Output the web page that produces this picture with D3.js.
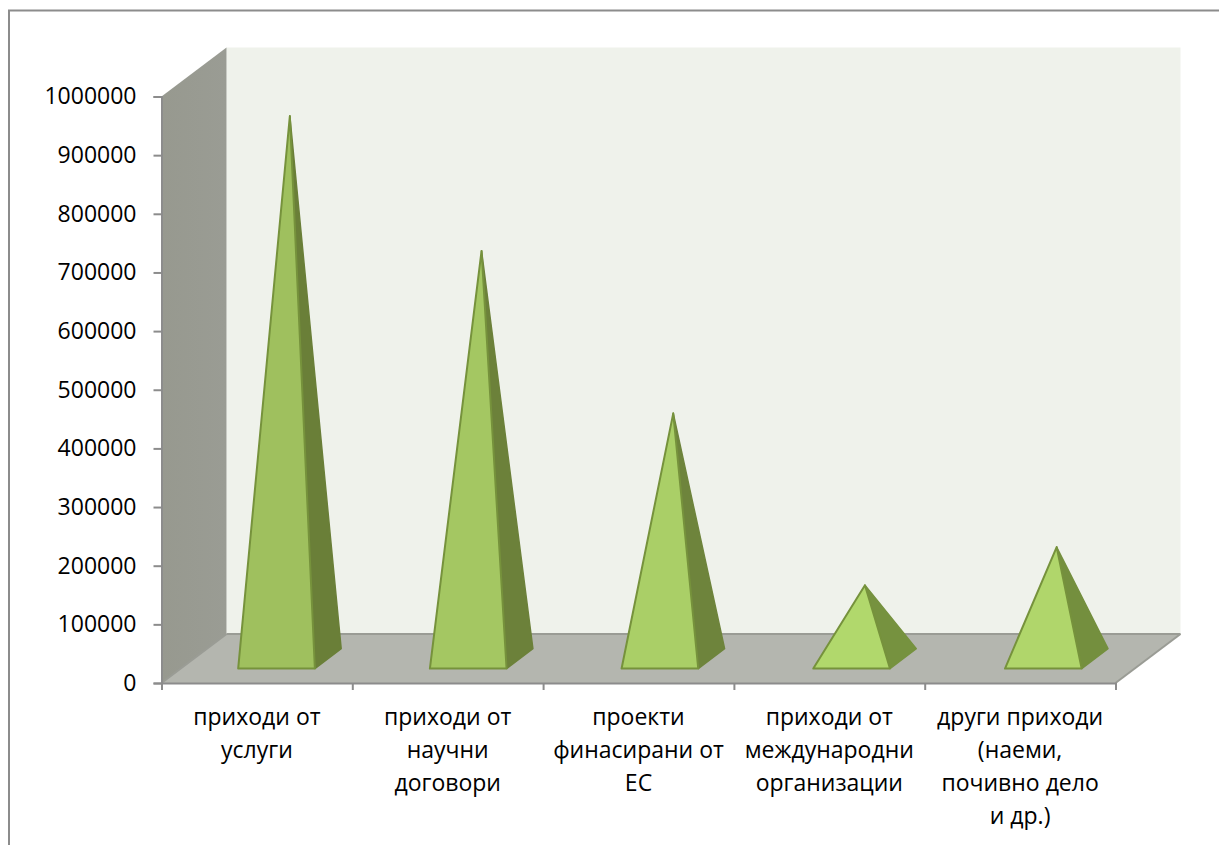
<!DOCTYPE html>
<html>
<head>
<meta charset="utf-8">
<script src="https://cdn.jsdelivr.net/npm/d3@7"></script>
<style>
  html, body { margin: 0; padding: 0; background: #fff; overflow: hidden; }
  text { font-family: "Open Sans", sans-serif; font-size: 23px; fill: #000; }
</style>
</head>
<body>
<svg id="drawing_region" width="1219" height="845"></svg>
<script>
const categories = [
    ['приходи от', 'услуги'],
    ['приходи от', 'научни', 'договори'],
    ['проекти', 'финасирани от', 'ЕС'],
    ['приходи от', 'международни', 'организации'],
    ['други приходи', '(наеми,', 'почивно дело', 'и др.)']
];
const values = [925000, 695000, 418000, 125000, 190000];
const yTicks = [0, 100000, 200000, 300000, 400000, 500000, 600000, 700000, 800000, 900000, 1000000];

const plot = { left: 161.5, right: 1115.5, top: 96.5, bottom: 683 };
const depth = { x: 65, y: 49 };   // how far the back wall is shifted from the front
const baseFront = 0.295, baseBack = 0.7;   // where a pyramid's base sits on the floor

const svg = d3.select('#drawing_region');

// the pyramids step a little wider than the axis ticks in the picture
const xScale = d3.scaleBand()
    .domain(d3.range(categories.length))
    .range([plot.left, plot.right + 4.5])
    .paddingInner(0.6)
    .paddingOuter(0.3);

const xEdge = d3.scaleLinear()
    .domain([0, categories.length])
    .range([plot.left, plot.right]);

const yScale = d3.scaleLinear()
    .domain([0, 1000000])
    .range([plot.bottom, plot.top]);

// small pyramids are drawn lighter than tall ones
const frontColor = d3.scaleLinear()
    .domain([125000, 925000])
    .range(['#b1d86c', '#9fc05e']);
const sideColor = d3.scaleLinear()
    .domain([125000, 418000, 925000])
    .range(['#76923f', '#6e843c', '#6a7f38']);

// data space + depth fraction -> pixel
const project = (px, value, d) => [px + d * depth.x, yScale(value) - d * depth.y];
const poly = pts => 'M' + pts.map(p => p.join(',')).join('L') + 'Z';

// chart frame, runs off the right and bottom of the picture
svg.append('rect')
    .attr('x', 9).attr('y', 10.5)
    .attr('width', 1240).attr('height', 860)
    .attr('fill', '#fff')
    .attr('stroke', '#8c8c8c')
    .attr('stroke-width', 2);

const defs = svg.append('defs');
const wallGrad = defs.append('linearGradient').attr('id', 'wall')
    .attr('x1', 0).attr('y1', 0).attr('x2', 1).attr('y2', 0);
wallGrad.append('stop').attr('offset', 0).attr('stop-color', '#97998f');
wallGrad.append('stop').attr('offset', 1).attr('stop-color', '#9a9c94');

// back wall
svg.append('path')
    .attr('d', poly([
        project(plot.left, 1000000, 1), project(plot.right, 1000000, 1),
        project(plot.right, 0, 1), project(plot.left, 0, 1)
    ]))
    .attr('fill', '#eff2eb');

// side wall
svg.append('path')
    .attr('d', poly([
        project(plot.left, 1000000, 0), project(plot.left, 1000000, 1),
        project(plot.left, 0, 1), project(plot.left, 0, 0)
    ]))
    .attr('fill', 'url(#wall)');

// floor
svg.append('path')
    .attr('d', poly([
        project(plot.left, 0, 0), project(plot.left, 0, 1),
        project(plot.right, 0, 1), project(plot.right, 0, 0)
    ]))
    .attr('fill', '#b4b6af');

// floor edges
const edges = [
    [project(plot.left, 0, 0), project(plot.left, 0, 1)],
    [project(plot.left, 0, 1), project(plot.right, 0, 1)],
    [project(plot.right, 0, 1), project(plot.right, 0, 0)]
];
svg.selectAll('.edge')
    .data(edges)
    .enter()
    .append('line')
    .attr('class', 'edge')
    .attr('x1', d => d[0][0]).attr('y1', d => d[0][1])
    .attr('x2', d => d[1][0]).attr('y2', d => d[1][1])
    .attr('stroke', '#9a9c95')
    .attr('stroke-width', 2);

// axes
const yAxis = d3.axisLeft(yScale)
    .tickValues(yTicks)
    .tickFormat(d3.format('d'))
    .tickSize(8)
    .tickPadding(17);
const yG = svg.append('g')
    .attr('transform', `translate(${plot.left},0)`)
    .call(yAxis);

const xAxis = d3.axisBottom(xEdge)
    .ticks(categories.length)
    .tickFormat('')
    .tickSize(7);
const xG = svg.append('g')
    .attr('transform', `translate(0,${plot.bottom})`)
    .call(xAxis);

[yG, xG].forEach(g => {
    g.selectAll('path.domain')
        .attr('stroke', '#8c8c8c').attr('stroke-width', 2);
    g.selectAll('.tick line')
        .attr('stroke', '#8c8c8c').attr('stroke-width', 2);
});
yG.selectAll('text')
    .attr('font-family', null).attr('font-size', null)
    .style('font-family', '"Open Sans", sans-serif');

// pyramids
const pyramid = svg.selectAll('.pyramid')
    .data(values)
    .enter()
    .append('g')
    .attr('class', 'pyramid');

const corners = i => {
    const l = xScale(i), r = l + xScale.bandwidth();
    return {
        apex: project((l + r) / 2, values[i], 0.5),
        frontL: project(l, 0, baseFront),
        frontR: project(r, 0, baseFront),
        backR: project(r, 0, baseBack)
    };
};

pyramid.append('path')
    .attr('d', (d, i) => {
        const c = corners(i);
        return poly([c.apex, c.frontR, c.backR]);
    })
    .attr('fill', d => sideColor(d))
    .attr('stroke', d => sideColor(d))
    .attr('stroke-width', 1.5)
    .attr('stroke-linejoin', 'round');

pyramid.append('path')
    .attr('d', (d, i) => {
        const c = corners(i);
        return poly([c.apex, c.frontL, c.frontR]);
    })
    .attr('fill', d => frontColor(d))
    .attr('stroke', '#76923c')
    .attr('stroke-width', 2)
    .attr('stroke-linejoin', 'round');

// category labels
const label = svg.selectAll('.cat')
    .data(categories)
    .enter()
    .append('text')
    .attr('class', 'cat')
    .attr('text-anchor', 'middle');

label.selectAll('tspan')
    .data((d, i) => d.map((line, j) => ({ line, j, i })))
    .enter()
    .append('tspan')
    .attr('x', d => xEdge(d.i + 0.5))
    .attr('y', d => 725 + d.j * 33)
    .text(d => d.line);
</script>
</body>
</html>
